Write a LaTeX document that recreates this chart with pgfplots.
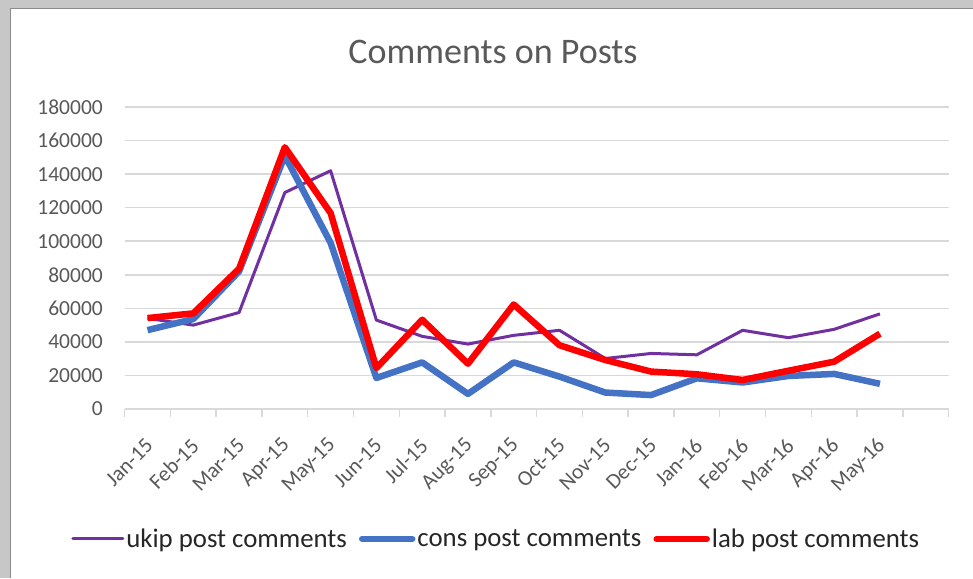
\documentclass[border=0pt]{standalone}
\usepackage{pgfplots}
\pgfplotsset{compat=1.18}
\usepackage{fontspec}
\setmainfont{Carlito}
\definecolor{ukip}{RGB}{112,48,160}
\definecolor{cons}{RGB}{68,114,196}
\definecolor{lab}{RGB}{255,0,0}
\definecolor{txt}{RGB}{89,89,89}
\definecolor{gridc}{RGB}{217,217,217}
\begin{document}
\begin{tikzpicture}
\fill[white] (0pt,0pt) rectangle (973pt,578pt);
\fill[black!22] (0pt,0pt) rectangle (10pt,578pt);
\fill[black!22] (0pt,569pt) rectangle (973pt,578pt);
\draw[black!45, line width=1.5pt] (10.5pt,0pt) -- (10.5pt,569.5pt) -- (973pt,569.5pt);
\node[text=txt, font=\fontsize{36}{40}\selectfont, anchor=base] at (493pt,514pt) {Comments on Posts};
\begin{scope}[shift={(147.5pt,169pt)}]
\begin{axis}[
  at={(0pt,0pt)}, anchor=origin,
  scale only axis, width=824pt, height=302pt,
  xmin=-0.5, xmax=17.5, ymin=0, ymax=180000,
  axis x line*=bottom, axis y line*=left,
  x axis line style={draw=gridc, line width=1.5pt, -},
  y axis line style={draw=none},
  xtick={0,...,16},
  xticklabels={Jan-15,Feb-15,Mar-15,Apr-15,May-15,Jun-15,Jul-15,Aug-15,Sep-15,Oct-15,Nov-15,Dec-15,Jan-16,Feb-16,Mar-16,Apr-16,May-16},
  minor xtick={-0.5,0.5,...,17.5},
  major x tick style={draw=none},
  minor x tick style={draw=gridc, line width=1.5pt},
  minor tick length=8pt,
  tick align=outside,
  ytick={0,20000,...,180000},
  ymajorgrids, major grid style={draw=gridc, line width=1.5pt},
  major y tick style={draw=none},
  scaled y ticks=false,
  yticklabel style={/pgf/number format/fixed, /pgf/number format/1000 sep={}, /pgf/number format/assume math mode=true, text=txt, font=\fontsize{21.5}{24}\selectfont, xshift=-14pt},
  xticklabel style={text=txt, font=\fontsize{21.5}{24}\selectfont, yshift=-29pt, xshift=2pt, rotate=45, anchor=east, inner sep=0pt},
  legend style={at={(0.451,-0.43)}, anchor=center, draw=none, fill=none,
    legend columns=3, font=\fontsize{26.8}{30}\selectfont, text=black!85,
    /tikz/every even column/.append style={column sep=10pt}},
  legend image code/.code={\draw[#1, line cap=round] (0pt,0pt) -- (50pt,0pt);},
]
\addplot[ukip, line width=3pt, line join=round] coordinates {
(0,54000) (1,50000) (2,57500) (3,129000) (4,142000) (5,53000) (6,43300) (7,38700) (8,43900) (9,46900) (10,30100) (11,33100) (12,32300) (13,46900) (14,42500) (15,47500) (16,56700)};
\addlegendentry{ukip post comments}
\addplot[cons, line width=6.5pt, line join=round] coordinates {
(0,47000) (1,53600) (2,82000) (3,151000) (4,99000) (5,18500) (6,27800) (7,9000) (8,27800) (9,19300) (10,9800) (11,8300) (12,18300) (13,15800) (14,19700) (15,20900) (16,15000)};
\addlegendentry{cons post comments}
\addplot[lab, line width=6.5pt, line join=round] coordinates {
(0,54200) (1,57000) (2,83600) (3,156000) (4,116800) (5,24400) (6,53200) (7,27000) (8,62300) (9,38000) (10,29200) (11,22300) (12,20700) (13,17300) (14,22800) (15,28200) (16,44900)};
\addlegendentry{lab post comments}
\end{axis}
\end{scope}
\pgfresetboundingbox
\useasboundingbox (0pt,0pt) rectangle (973pt,578pt);
\end{tikzpicture}
\end{document}
